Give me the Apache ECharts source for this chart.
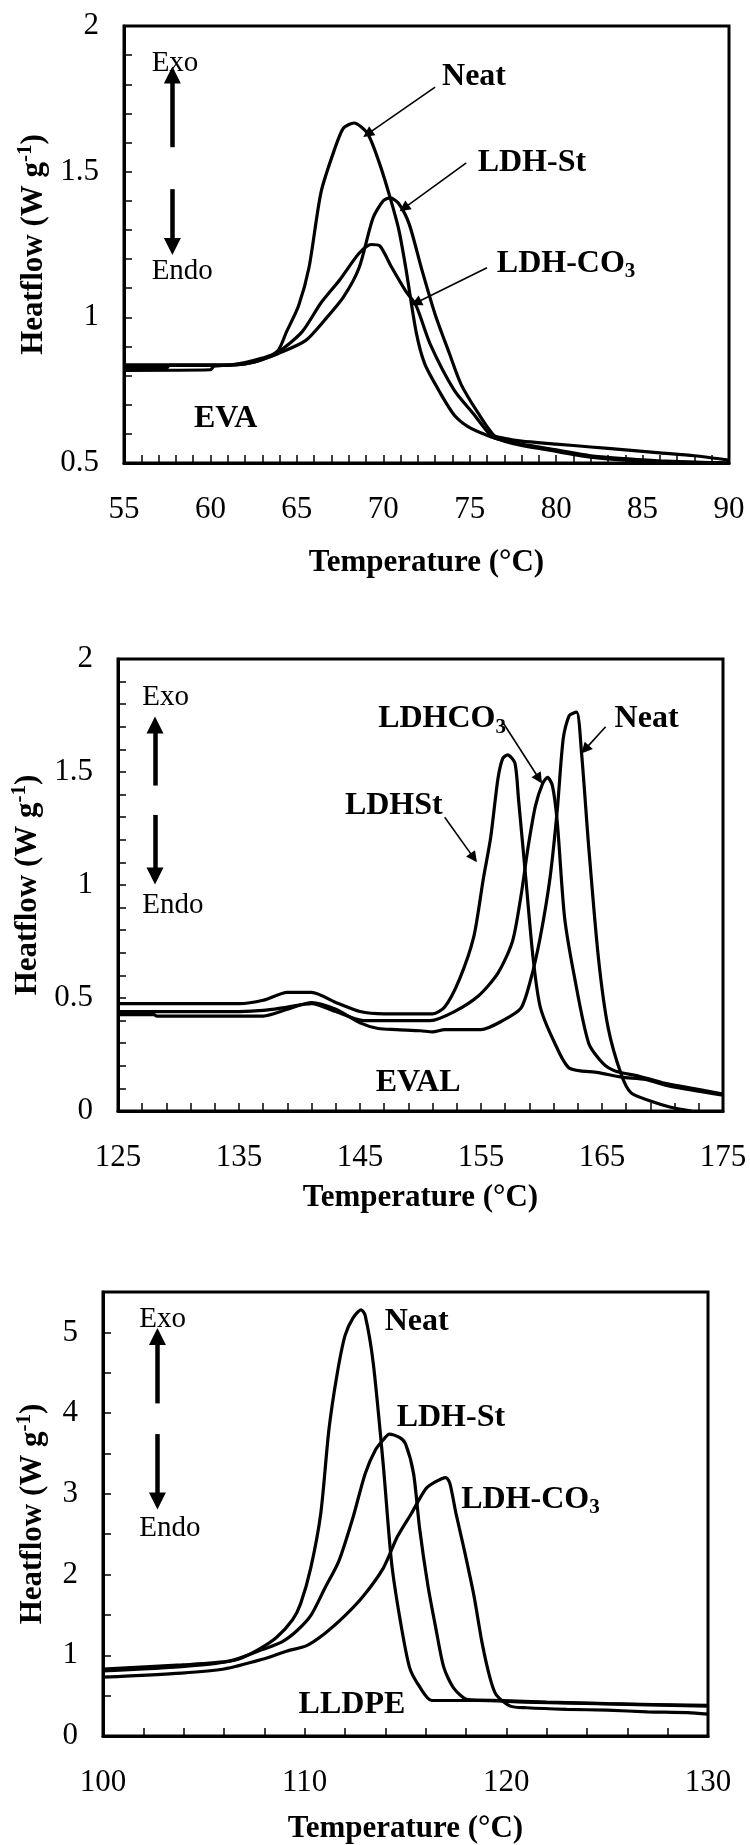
<!DOCTYPE html>
<html><head><meta charset="utf-8">
<script src="https://cdn.jsdelivr.net/npm/echarts@6/dist/echarts.min.js"></script>
<style>html,body{margin:0;padding:0;background:#fff}#c{width:750px;height:1845px}</style>
</head><body><div id="c"></div>
<script>
// ---------- DATA: EVA (top panel) ----------
const evaNeat = [[55,0.828],[57.5,0.828],[57.6,0.835],[61,0.835],[62,0.84],[63,0.855],[63.9,0.885],[64.4,0.95],[65.1,1.04],[65.7,1.17],[66.4,1.43],[67.2,1.58],[67.7,1.65],[68.3,1.667],[69.1,1.63],[69.8,1.525],[70.4,1.41],[70.9,1.30],[71.3,1.17],[71.9,0.95],[72.4,0.84],[73.3,0.74],[74.1,0.665],[74.9,0.625],[76,0.595],[77,0.575],[78,0.56],[80,0.54],[82,0.52],[84,0.51],[86,0.505],[90,0.50]];
const evaLdhSt = [[55,0.818],[60,0.82],[60.2,0.832],[62,0.84],[63,0.855],[63.9,0.875],[65.5,0.92],[66.6,0.99],[67.7,1.07],[68.6,1.17],[69.4,1.34],[70,1.40],[70.4,1.41],[70.9,1.39],[71.5,1.32],[72.2,1.17],[73,1.01],[73.8,0.88],[74.5,0.77],[75.5,0.67],[76.4,0.595],[77,0.585],[78,0.575],[80,0.565],[82,0.555],[84,0.545],[86,0.535],[88,0.525],[90,0.51]];
const evaLdhCO3 = [[55,0.837],[61,0.837],[62,0.845],[63,0.86],[63.9,0.88],[65.3,0.95],[66.4,1.05],[67.5,1.13],[68.6,1.22],[69.3,1.25],[69.8,1.245],[70.5,1.17],[71.3,1.09],[71.9,1.04],[72.7,0.91],[74.1,0.75],[75.2,0.67],[76.3,0.59],[77,0.578],[78,0.565],[80,0.545],[82,0.525],[84,0.515],[86,0.507],[90,0.50]];
// ---------- DATA: EVAL (middle panel) ----------
const evalNeat = [[125,0.426],[128,0.426],[128.2,0.42],[137,0.42],[139,0.45],[141,0.48],[143,0.45],[145,0.39],[146.5,0.365],[148,0.36],[150,0.355],[151,0.35],[152,0.36],[155,0.36],[156.8,0.40],[158.3,0.455],[159.1,0.58],[159.9,0.77],[160.7,1.03],[161.3,1.33],[161.8,1.65],[162.3,1.75],[162.9,1.765],[163.3,1.59],[163.9,1.17],[164.7,0.68],[165.5,0.37],[166.6,0.16],[167.4,0.08],[169,0.044],[170.6,0.018],[172.4,0.0]];
const evalLdhCO3 = [[125,0.44],[135,0.44],[137,0.445],[139,0.46],[141,0.475],[143,0.44],[145.3,0.40],[147,0.40],[150.8,0.40],[152.8,0.44],[154.8,0.51],[156.4,0.61],[157.6,0.75],[158.3,0.95],[158.9,1.17],[159.5,1.35],[160.1,1.45],[160.5,1.476],[160.9,1.44],[161.3,1.28],[161.9,0.86],[162.7,0.60],[163.9,0.30],[165.1,0.21],[166.2,0.175],[168,0.155],[170,0.125],[172,0.105],[175,0.075]];
const evalLdhSt = [[125,0.475],[135,0.475],[137,0.49],[139,0.525],[141,0.525],[143,0.48],[145,0.44],[147,0.43],[151,0.43],[152,0.46],[153.2,0.58],[154.4,0.77],[155.2,1.03],[155.8,1.21],[156.4,1.47],[156.8,1.56],[157.2,1.576],[157.8,1.54],[158.1,1.38],[158.7,1.03],[159.3,0.68],[159.9,0.46],[161.1,0.30],[162.3,0.19],[164.7,0.17],[166.6,0.15],[168.6,0.14],[170.6,0.11],[175,0.07]];
// ---------- DATA: LLDPE (bottom panel) ----------
const lldpeNeat = [[100,0.806],[102,0.83],[103.9,0.86],[105.6,0.90],[106.7,0.95],[107.7,1.07],[108.6,1.22],[109.4,1.44],[109.8,1.64],[110.3,2.08],[110.8,2.76],[111.2,3.79],[111.6,4.47],[112.0,4.96],[112.4,5.18],[112.8,5.28],[113.0,5.21],[113.4,4.62],[113.9,3.35],[114.3,2.17],[114.7,1.49],[115.2,0.85],[115.7,0.61],[116.3,0.44],[118.6,0.44],[120.9,0.42],[124.5,0.40],[130,0.37]];
const lldpeLdhSt = [[100,0.83],[103.9,0.88],[106.3,0.93],[107.9,1.07],[108.9,1.17],[109.6,1.30],[110.3,1.49],[111.0,1.83],[111.7,2.17],[112.4,2.71],[113.0,3.25],[113.5,3.54],[113.9,3.67],[114.2,3.74],[114.7,3.70],[115.0,3.62],[115.4,3.25],[115.7,2.57],[116.1,1.88],[116.5,1.34],[116.9,0.85],[117.4,0.59],[118.1,0.45],[119.8,0.44],[122,0.42],[125,0.40],[130,0.38]];
const lldpeLdhCO3 = [[100,0.73],[103.9,0.78],[106.0,0.83],[107.9,0.95],[109.1,1.05],[110.1,1.12],[111.0,1.27],[112.0,1.49],[112.9,1.73],[113.9,2.08],[114.6,2.47],[115.3,2.76],[116.0,3.06],[116.5,3.15],[117.0,3.20],[117.2,3.13],[117.5,2.76],[117.9,2.32],[118.4,1.73],[118.8,1.15],[119.2,0.71],[119.5,0.51],[120.2,0.37],[121,0.35],[123,0.33],[125,0.32],[127,0.30],[129,0.29],[130,0.27]];

// ---------- Axis ranges / ticks ----------
const xRanges = [[55,90,5,5],[125,175,10,5],[100,130,10,5]];   // min,max,interval,minor split
const yRanges = [[0.5,2,0.5,5],[0,2,0.5,5],[0,5.5,0.5,1]];

// ---------- Annotations (data coords) ----------
const labels = [
  [ // EVA
    ['Exo',56.6,1.873,false],['Endo',56.6,1.158,false],['EVA',59.05,0.653,true],
    ['Neat',73.4,1.827,true],['LDH-St',75.46,1.532,true],['LDH-CO{sub|3}',76.57,1.184,true]
  ],
  [ // EVAL
    ['Exo',127.0,1.83,false],['Endo',127.0,0.91,false],['EVAL',146.3,0.123,true],
    ['LDHCO{sub|3}',146.5,1.734,true],['Neat',166.04,1.734,true],['LDHSt',143.75,1.35,true]
  ],
  [ // LLDPE
    ['Exo',101.8,5.16,false],['Endo',101.8,2.57,false],['LLDPE',109.7,0.39,true],
    ['Neat',113.97,5.13,true],['LDH-St',114.56,3.94,true],['LDH-CO{sub|3}',117.76,2.93,true]
  ]
];
const pointerArrows = [
  [[[73.0,1.79],[69.1,1.63]],[[74.8,1.53],[71.2,1.375]],[[76.0,1.17],[71.9,1.05]]],
  [[[156.8,1.72],[159.8,1.47]],[[165.3,1.70],[163.6,1.60]],[[152.0,1.30],[154.4,1.12]]],
  []
];
const exoEndoArrows = [
  [[[57.8,1.584],[57.8,1.832]],[[57.8,1.44],[57.8,1.243]]],
  [[[128.06,1.44],[128.06,1.708]],[[128.06,1.31],[128.06,1.04]]],
  [[[102.7,4.12],[102.7,4.95]],[[102.7,3.74],[102.7,2.91]]]
];

const FONT = '"Liberation Serif","Times New Roman",serif';
const grids = [
  {left:124, top:26, width:605, height:437},
  {left:118, top:659, width:605, height:452},
  {left:103, top:1292, width:605, height:449}
];
const xGaps = [84, 71, 77];
const yGaps = [70, 66, 52];

const seriesSets = [[evaNeat,evaLdhSt,evaLdhCO3],[evalNeat,evalLdhCO3,evalLdhSt],[lldpeNeat,lldpeLdhSt,lldpeLdhCO3]];

const tickStyle = {color:'#000', width:1.5};
const xAxes = [], yAxes = [], series = [];
for (let i=0;i<3;i++){
  const [x0,x1,xi,xs] = xRanges[i];
  const [y0,y1,yi,ys] = yRanges[i];
  xAxes.push({
    gridIndex:i, type:'value', min:x0, max:x1, interval:xi,
    axisLine:{show:true,onZero:false,lineStyle:{color:'#000',width:3}},
    axisTick:{show:true,inside:true,length:8,lineStyle:tickStyle},
    minorTick:{show:true,splitNumber:xs,length:8,lineStyle:tickStyle},
    splitLine:{show:false}, minorSplitLine:{show:false},
    axisLabel:{color:'#000',fontFamily:FONT,fontSize:31,margin:31},
    name:'Temperature (°C)', nameLocation:'middle', nameGap:xGaps[i],
    nameTextStyle:{color:'#000',fontFamily:FONT,fontSize:31,fontWeight:'bold'}
  });
  const yAx = {
    gridIndex:i, type:'value', min:y0, max:y1, interval:yi,
    axisLine:{show:true,onZero:false,lineStyle:{color:'#000',width:3}},
    axisTick:{show:true,inside:true,length:8,lineStyle:tickStyle},
    splitLine:{show:false}, minorSplitLine:{show:false},
    axisLabel:{color:'#000',fontFamily:FONT,fontSize:31,margin:25},
    name:'Heatflow (W g{sup|-1})', nameLocation:'middle', nameGap:yGaps[i], nameRotate:90,
    nameTextStyle:{color:'#000',fontFamily:FONT,fontSize:31,fontWeight:'bold',
      rich:{sup:{fontFamily:FONT,fontSize:21,fontWeight:'bold',color:'#000',padding:[0,0,16,0]}}}
  };
  if (ys > 1) yAx.minorTick = {show:true,splitNumber:ys,length:8,lineStyle:tickStyle};
  if (i===2) yAx.axisLabel.formatter = v => (Math.abs(v-Math.round(v))<1e-9 ? String(Math.round(v)) : '');
  yAxes.push(yAx);
  seriesSets[i].forEach(d => series.push({
    type:'line', xAxisIndex:i, yAxisIndex:i, data:d, showSymbol:false, symbol:'none',
    smooth:0.25, silent:true, clip:true, lineStyle:{color:'#000',width:3.2}
  }));
  series.push({
    type:'line', xAxisIndex:i, yAxisIndex:i, data:[], silent:true,
    markLine:{silent:true, animation:false, label:{show:false}, emphasis:{disabled:true},
      lineStyle:{color:'#000',width:1.6,type:'solid'}, symbol:['none','triangle'], symbolSize:11,
      data: pointerArrows[i].map(a=>[{coord:a[0]},{coord:a[1]}])}
  });
  series.push({
    type:'line', xAxisIndex:i, yAxisIndex:i, data:[], silent:true,
    markLine:{silent:true, animation:false, label:{show:false}, emphasis:{disabled:true},
      lineStyle:{color:'#000',width:4.5,type:'solid'}, symbol:['none','triangle'], symbolSize:17,
      data: exoEndoArrows[i].map(a=>[{coord:a[0]},{coord:a[1]}])}
  });
}

const chart = echarts.init(document.getElementById('c'), null, {renderer:'canvas'});
chart.setOption({
  animation:false, backgroundColor:'#fff',
  grid: grids.map(g=>Object.assign({show:true,borderColor:'#000',borderWidth:3,backgroundColor:'transparent'},g)),
  xAxis:xAxes, yAxis:yAxes, series:series
});

const graphics = [];
labels.forEach((set,i)=>set.forEach(([t,x,y,bold])=>{
  const p = chart.convertToPixel({gridIndex:i},[x,y]);
  graphics.push({type:'text', x:p[0], y:p[1], silent:true,
    style:{text:t, fill:'#000', fontFamily:FONT, fontSize: bold?32:29, fontWeight: bold?'bold':'normal',
      align:'left', verticalAlign:'middle',
      rich:{sub:{fontFamily:FONT,fontSize:21,fontWeight:'bold',fill:'#000',padding:[16,0,0,0]}}}});
}));
chart.setOption({graphic:graphics});
</script></body></html>
